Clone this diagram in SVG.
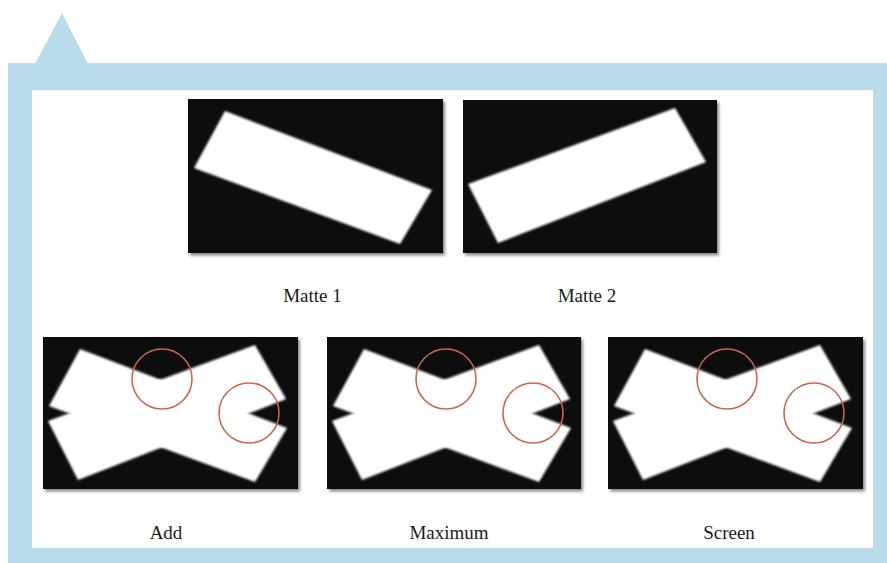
<svg xmlns="http://www.w3.org/2000/svg" xmlns:xlink="http://www.w3.org/1999/xlink" width="887" height="563" viewBox="0 0 887 563">
<style>
.frame{fill:#b9dbeb}
.panel{fill:#ffffff}
.plate{fill:#080808;filter:url(#shadow)}
.shape{fill:#ffffff;filter:url(#soft)}
.ring{fill:none;stroke:#c9674a;stroke-width:1.6}
.label{font-family:"Liberation Serif","Times New Roman",serif;font-size:19px;fill:#1a1a1a;text-anchor:middle}
</style>
<defs>
<filter id="shadow" x="-5%" y="-5%" width="115%" height="120%">
<feDropShadow dx="2" dy="2.5" stdDeviation="1.5" flood-color="#6a6a6a" flood-opacity="0.8"/>
</filter>
<filter id="soft" x="-5%" y="-5%" width="110%" height="110%">
<feGaussianBlur stdDeviation="0.9"/>
</filter>
<polygon id="m1" class="shape" points="37,12 244,91 212,145 6,69"/>
<polygon id="m2" class="shape" points="212,8 243,62 35,143 5,84"/>
<g id="rings">
<circle class="ring" cx="119" cy="42" r="30"/>
<circle class="ring" cx="206" cy="76" r="30"/>
</g>
</defs>

<g id="frame">
<polygon class="frame" points="35,64 62,13 88,64"/>
<rect class="frame" x="8" y="63" width="879" height="500"/>
<rect class="panel" x="32" y="90" width="841" height="458"/>
</g>

<g id="matte1">
<g transform="translate(188,99)">
<rect class="plate" x="0" y="0" width="255" height="154"/>
<use xlink:href="#m1"/>
</g>
<text class="label" x="312.5" y="302">Matte 1</text>
</g>

<g id="matte2">
<g transform="translate(463,100)">
<rect class="plate" x="0" y="0" width="254" height="153"/>
<use xlink:href="#m2"/>
</g>
<text class="label" x="587" y="302">Matte 2</text>
</g>

<g id="add">
<g transform="translate(43,337)">
<rect class="plate" x="0" y="0" width="255" height="152"/>
<use xlink:href="#m1"/>
<use xlink:href="#m2"/>
<use xlink:href="#rings"/>
</g>
<text class="label" x="166" y="539">Add</text>
</g>

<g id="maximum">
<g transform="translate(327,337)">
<rect class="plate" x="0" y="0" width="254" height="152"/>
<use xlink:href="#m1"/>
<use xlink:href="#m2"/>
<use xlink:href="#rings"/>
</g>
<text class="label" x="449" y="539">Maximum</text>
</g>

<g id="screen">
<g transform="translate(608,337)">
<rect class="plate" x="0" y="0" width="255" height="152"/>
<use xlink:href="#m1"/>
<use xlink:href="#m2"/>
<use xlink:href="#rings"/>
</g>
<text class="label" x="729" y="539">Screen</text>
</g>
</svg>
